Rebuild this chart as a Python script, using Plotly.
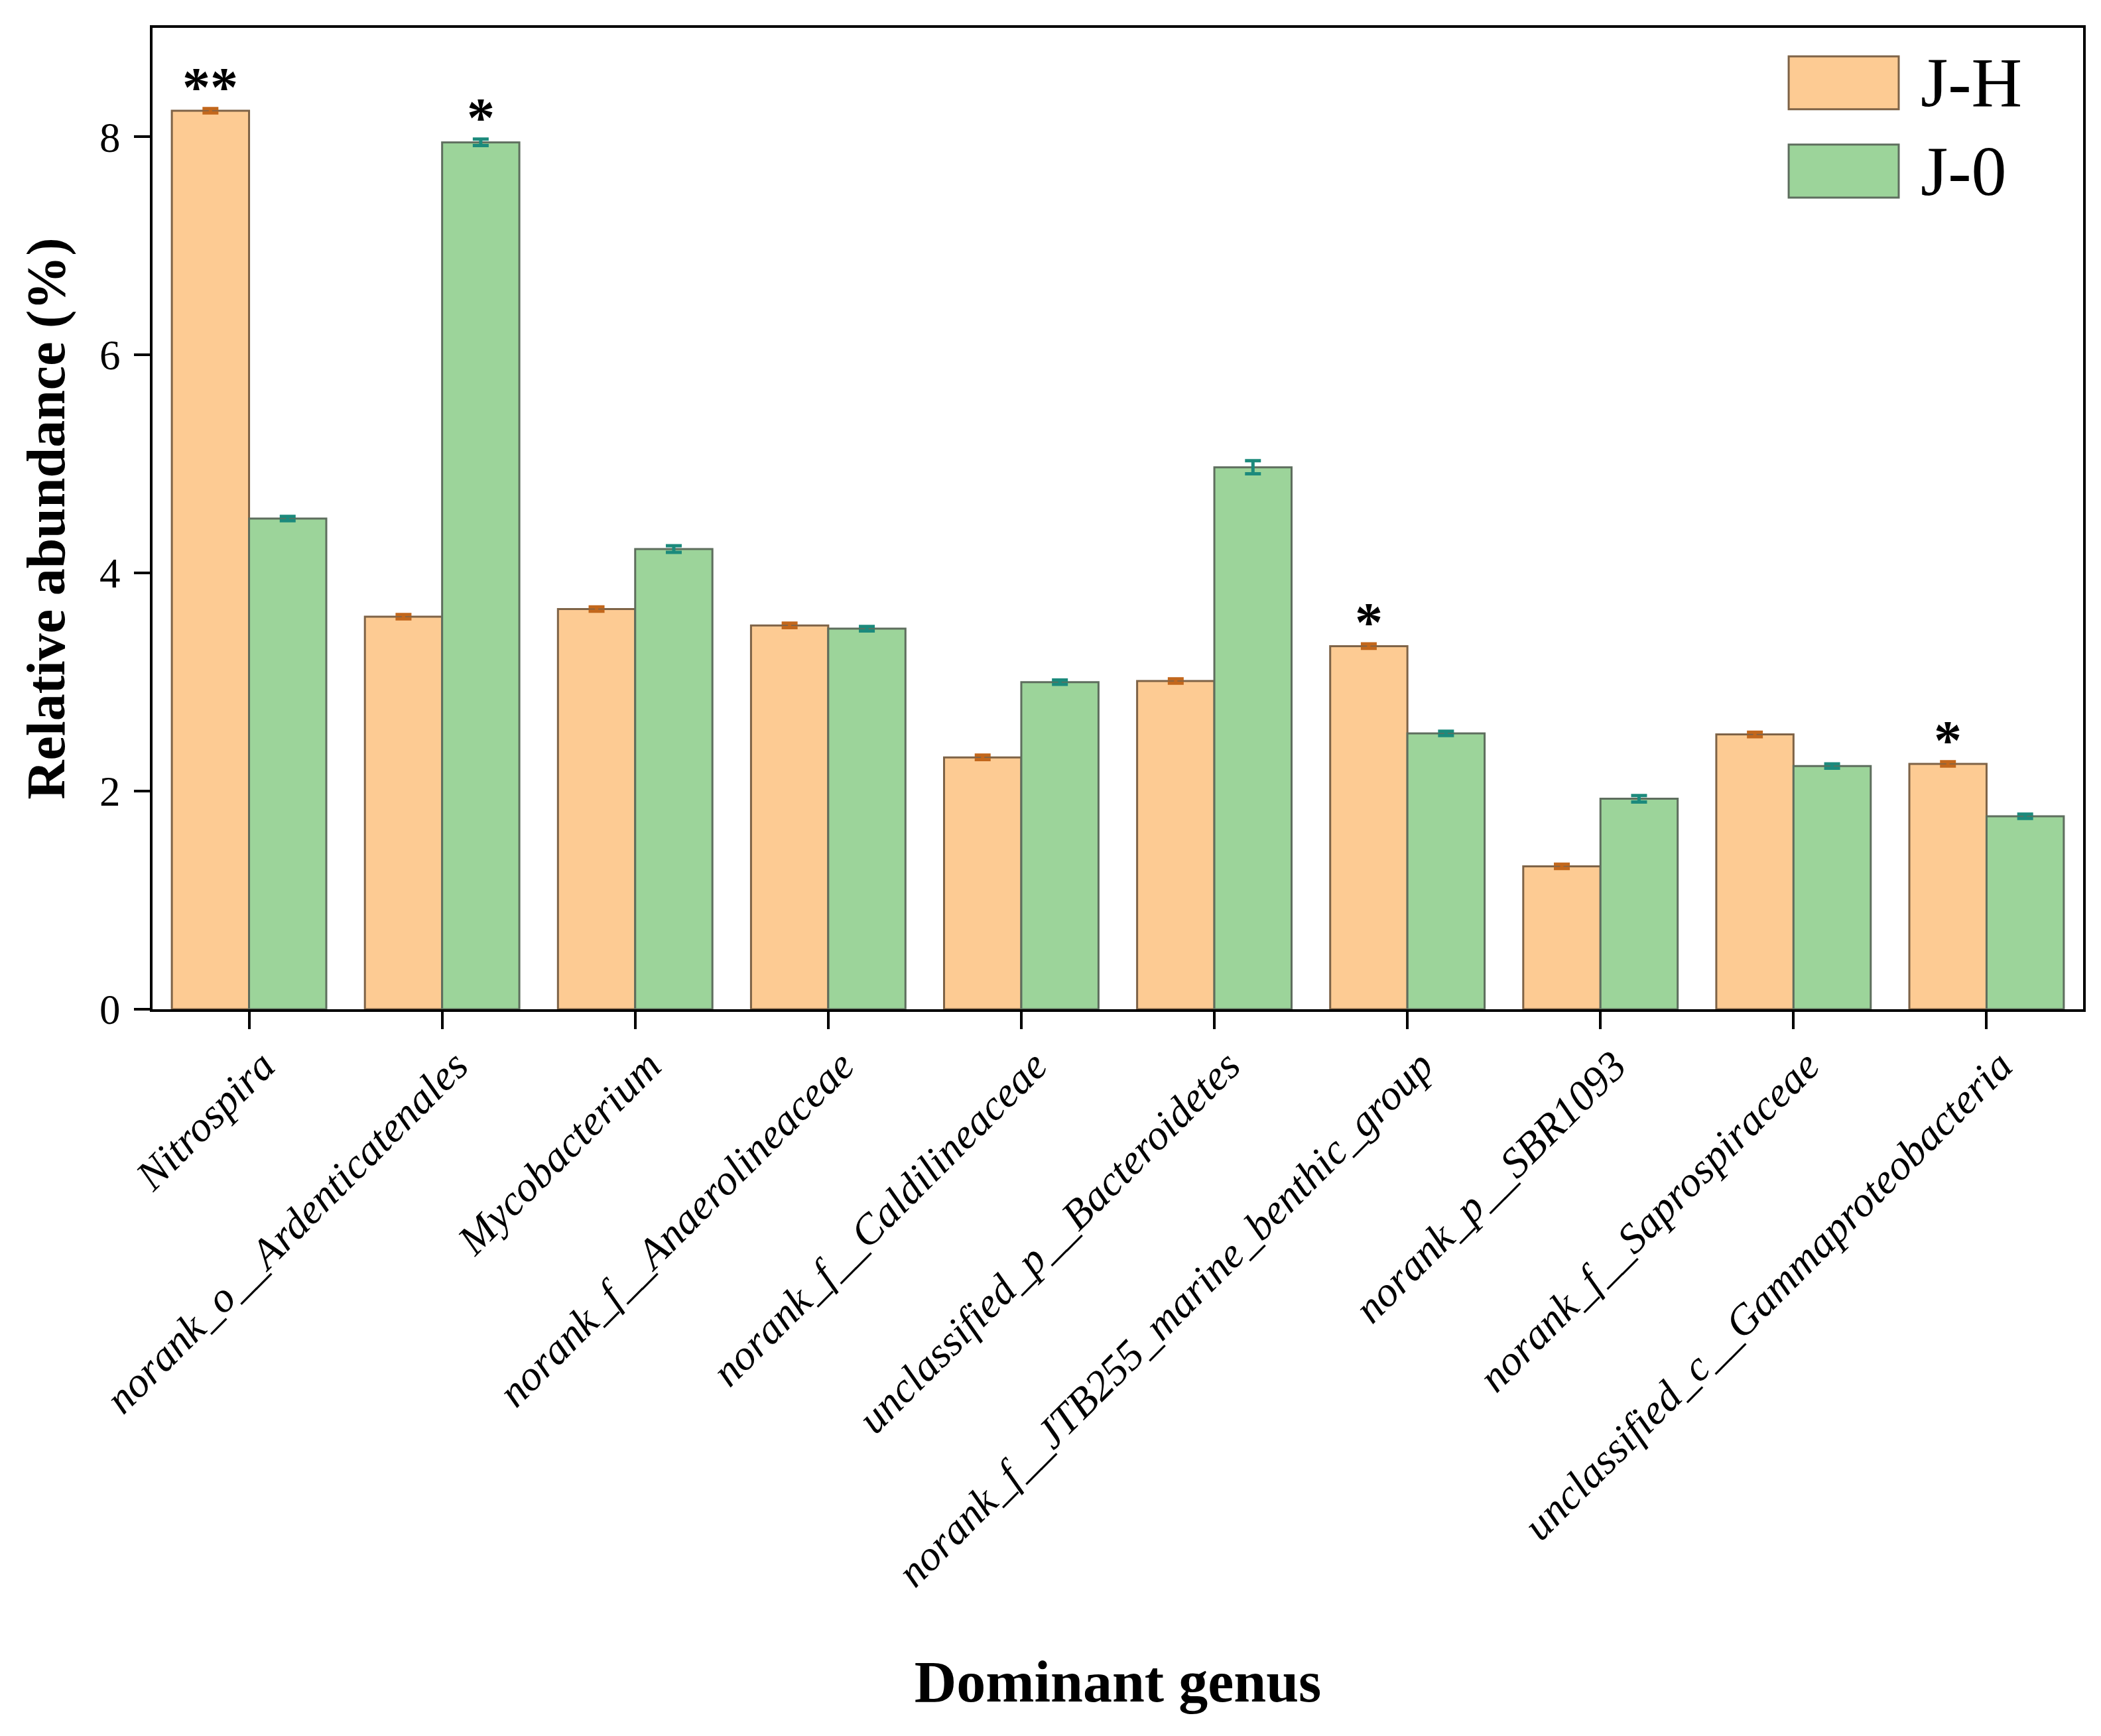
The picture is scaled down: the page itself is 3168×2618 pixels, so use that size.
import plotly.graph_objects as go

genera = ["Nitrospira", "norank_o__Ardenticatenales", "Mycobacterium",
          "norank_f__Anaerolineaceae", "norank_f__Caldilineaceae",
          "unclassified_p__Bacteroidetes", "norank_f__JTB255_marine_benthic_group",
          "norank_p__SBR1093", "norank_f__Saprospiraceae",
          "unclassified_c__Gammaproteobacteria"]
jh_values = [8.24, 3.60, 3.67, 3.52, 2.31, 3.01, 3.33, 1.31, 2.52, 2.25]
j0_values = [4.50, 7.95, 4.22, 3.49, 3.00, 4.97, 2.53, 1.93, 2.23, 1.77]
jh_err = [0.02, 0.02, 0.02, 0.02, 0.02, 0.02, 0.02, 0.02, 0.02, 0.02]
j0_err = [0.02, 0.03, 0.03, 0.02, 0.02, 0.06, 0.02, 0.03, 0.02, 0.02]
jh_sig = ["**", "", "", "", "", "", "*", "", "", "*"]
j0_sig = ["", "*", "", "", "", "", "", "", "", ""]
y_ticks = [0, 2, 4, 6, 8]
series_names = ["J-H", "J-0"]

FONT = "Liberation Serif, Times New Roman, serif"
JH_FILL, JH_LINE, JH_ERR = "#FDCB93", "#7E6347", "#C2671C"
J0_FILL, J0_LINE, J0_ERR = "#9CD49A", "#5E6E5E", "#1C8A7C"

fig = go.Figure()
fig.add_trace(go.Bar(
    x=genera, y=jh_values, name=series_names[0], offsetgroup="a",
    marker=dict(color=JH_FILL, line=dict(color=JH_LINE, width=3)),
    error_y=dict(type="data", array=jh_err, color=JH_ERR, thickness=5, width=12),
    showlegend=False))
fig.add_trace(go.Bar(
    x=genera, y=j0_values, name=series_names[1], offsetgroup="b",
    marker=dict(color=J0_FILL, line=dict(color=J0_LINE, width=3)),
    error_y=dict(type="data", array=j0_err, color=J0_ERR, thickness=5, width=12),
    showlegend=False))

annotations = []
for i, (s, v, e) in enumerate(zip(jh_sig, jh_values, jh_err)):
    if s:
        annotations.append(dict(x=i - 0.2, y=v + e, text="<b>" + s + "</b>", showarrow=False,
                                yanchor="bottom", yshift=-16,
                                font=dict(family=FONT, size=84, color="black")))
for i, (s, v, e) in enumerate(zip(j0_sig, j0_values, j0_err)):
    if s:
        annotations.append(dict(x=i + 0.2, y=v + e, text="<b>" + s + "</b>", showarrow=False,
                                yanchor="bottom", yshift=-16,
                                font=dict(family=FONT, size=84, color="black")))

# custom legend (large swatches like the original)
shapes = []
legend_items = [(series_names[0], JH_FILL, JH_LINE, 0.944), (series_names[1], J0_FILL, J0_LINE, 0.854)]
for name, fill, line, yc in legend_items:
    shapes.append(dict(type="rect", xref="paper", yref="paper",
                       x0=0.8475, x1=0.9045, y0=yc - 0.027, y1=yc + 0.027,
                       fillcolor=fill, line=dict(color=line, width=3)))
    annotations.append(dict(xref="paper", yref="paper", x=0.915, y=yc, text=name,
                            showarrow=False, xanchor="left", yanchor="middle",
                            font=dict(family=FONT, size=106, color="black")))

fig.update_layout(
    width=3168, height=2618,
    paper_bgcolor="white", plot_bgcolor="white",
    margin=dict(l=222, r=35, t=34, b=1104),
    bargap=0.2, bargroupgap=0,
    barmode="group",
    font=dict(family=FONT, color="black"),
    annotations=annotations,
    shapes=shapes,
    xaxis=dict(
        type="category",
        range=[-0.5, len(genera) - 0.5],
        showline=True, linecolor="black", linewidth=4, mirror=True,
        ticks="outside", ticklen=26, tickwidth=4, tickcolor="black",
        tickangle=-45, ticklabelshift=20, ticklabelstandoff=-8,
        tickfont=dict(family=FONT, size=64, color="black", style="italic"),
        title=dict(text="<b>Dominant genus</b>", standoff=100,
                   font=dict(family=FONT, size=88, color="black")),
        showgrid=False, automargin=False),
    yaxis=dict(
        range=[0, 9],
        tickvals=y_ticks,
        showline=True, linecolor="black", linewidth=4, mirror=True,
        ticks="outside", ticklen=24, tickwidth=4, tickcolor="black",
        ticklabelstandoff=8,
        tickfont=dict(family=FONT, size=63, color="black"),
        title=dict(text="<b>Relative abundance (%)</b>", standoff=26,
                   font=dict(family=FONT, size=82, color="black")),
        showgrid=False, zeroline=False, automargin=False),
)

fig.write_html("out.html")
